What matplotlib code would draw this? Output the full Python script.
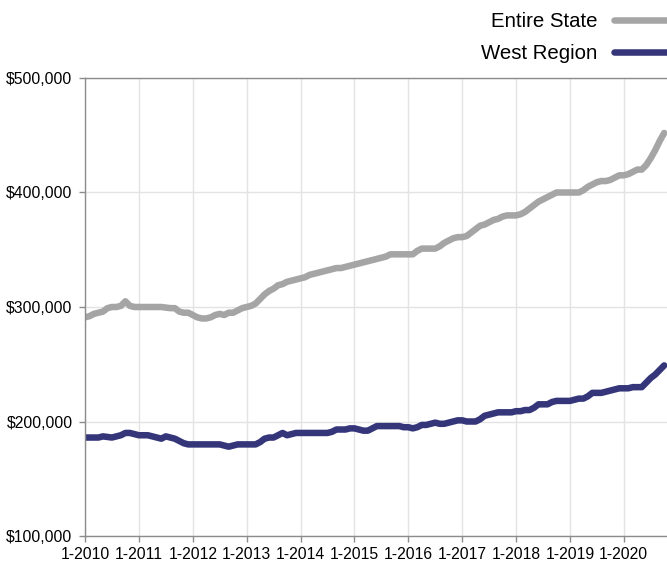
import numpy as np
import matplotlib
matplotlib.use("Agg")
import matplotlib.pyplot as plt

plt.rcParams['font.family'] = ['Liberation Sans', 'DejaVu Sans']

# monthly values, Jan 2010 .. Oct 2020 (thousands of $)
entire_state = [
    291, 292, 294, 295, 296, 299, 300, 300, 301, 305, 301, 300,   # 2010
    300, 300, 300, 300, 300, 300, 299.5, 299, 299, 296, 295, 295,  # 2011
    293, 291, 290, 290, 291, 293, 294, 293, 295, 295, 297, 299,   # 2012
    300, 301, 303, 307, 311, 314, 316, 319, 320, 322, 323, 324,   # 2013
    325, 326, 328, 329, 330, 331, 332, 333, 334, 334, 335, 336,   # 2014
    337, 338, 339, 340, 341, 342, 343, 344, 346, 346, 346, 346,   # 2015
    346, 346, 349, 351, 351, 351, 351, 353, 356, 358, 360, 361,   # 2016
    361, 362, 365, 368, 371, 372, 374, 376, 377, 379, 380, 380,   # 2017
    380, 381, 383, 386, 389, 392, 394, 396, 398, 400, 400, 400,   # 2018
    400, 400, 400, 402, 405, 407, 409, 410, 410, 411, 413, 415,   # 2019
    415, 416, 418, 420, 420, 424, 430, 437, 445, 452,             # 2020
]
west_region = [
    186, 186, 186, 186, 187, 186.5, 186, 187, 188, 190, 190, 189,
    188, 188, 188, 187, 186, 185, 187, 186, 185, 183, 181, 180,
    180, 180, 180, 180, 180, 180, 180, 179, 178, 179, 180, 180,
    180, 180, 180, 182, 185, 186, 186, 188, 190, 188, 189, 190,
    190, 190, 190, 190, 190, 190, 190, 191, 193, 193, 193, 194,
    194, 193, 192, 192, 194, 196, 196, 196, 196, 196, 196, 195,
    195, 194, 195, 197, 197, 198, 199, 198, 198, 199, 200, 201,
    201, 200, 200, 200, 202, 205, 206, 207, 208, 208, 208, 208,
    209, 209, 210, 210, 212, 215, 215, 215, 217, 218, 218, 218,
    218, 219, 220, 220, 222, 225, 225, 225, 226, 227, 228, 229,
    229, 229, 230, 230, 230, 234, 238, 241, 245, 249,
]
years = list(range(2010, 2021))
year_labels = ['1-%d' % y for y in years]
y_ticks = [100000, 200000, 300000, 400000, 500000]

months = np.arange(len(entire_state))
state = np.array(entire_state) * 1000
west = np.array(west_region) * 1000

fig = plt.figure(figsize=(6.67, 5.62), dpi=100)
ax = fig.add_axes([85/667, 26/562, 582/667, 458/562])

ax.plot(months, state, color='#a5a5a5', lw=4.7, solid_capstyle='round',
        solid_joinstyle='round', label='Entire State')
ax.plot(months, west, color='#35367a', lw=4.7, solid_capstyle='round',
        solid_joinstyle='round', label='West Region')

ax.set_xlim(0, 582/4.49)
ax.set_ylim(100000, 500000)
ax.set_xticks([12*i for i in range(len(years))])
ax.set_xticklabels(year_labels)
ax.set_yticks(y_ticks)
ax.set_yticklabels(['$%s' % format(v, ',') for v in y_ticks])

ax.grid(True, color='#e3e3e3', lw=1)
ax.set_axisbelow(True)
for s in ['left', 'bottom', 'top']:
    ax.spines[s].set_color('#8c8c8c')
    ax.spines[s].set_linewidth(1)
ax.spines['right'].set_visible(False)
ax.tick_params(axis='both', colors='#8c8c8c', length=4, width=1,
               labelsize=11.3, labelcolor='black')
ax.tick_params(axis='y', pad=5)
ax.tick_params(axis='x', pad=4)

leg = ax.legend(loc='upper right', bbox_to_anchor=(708/667, 1.0),
                bbox_transform=fig.transFigure, frameon=False,
                markerfirst=False, fontsize=14.7, handlelength=4,
                handletextpad=0.8, labelspacing=0.62, borderpad=0.1)
for t in leg.get_texts():
    t.set_ha('right')

fig.savefig('out.png', dpi=100)
